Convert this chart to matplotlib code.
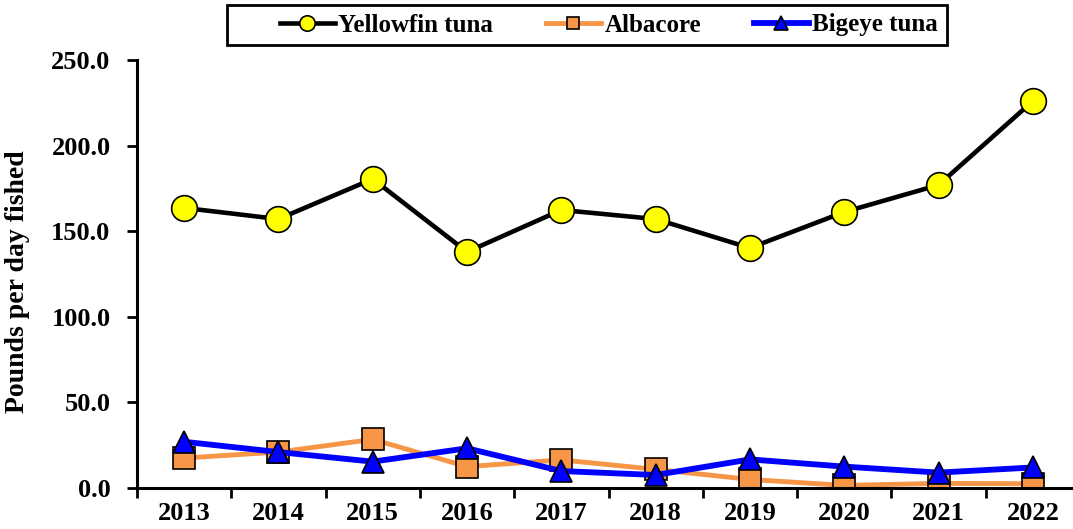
import matplotlib
matplotlib.use("Agg")
import matplotlib.pyplot as plt
from matplotlib.patches import Rectangle
import numpy as np

years = ["2013", "2014", "2015", "2016", "2017", "2018", "2019", "2020", "2021", "2022"]
yellowfin = [163.6, 157.1, 180.5, 137.9, 162.4, 157.1, 140.2, 161.2, 177.0, 226.0]
albacore = [17.5, 21.0, 28.4, 12.5, 16.4, 10.9, 5.0, 1.5, 2.7, 2.5]
bigeye = [27.0, 21.0, 15.4, 23.2, 9.9, 7.6, 16.7, 12.5, 9.0, 12.0]
yticks = [0, 50, 100, 150, 200, 250]

plt.rcParams['font.family'] = ['Liberation Serif', 'DejaVu Serif']
plt.rcParams['font.weight'] = 'bold'

fig = plt.figure(figsize=(10.73, 5.29), dpi=100)
W, H = 1073, 529
ax = fig.add_axes([137 / W, 1 - 488 / H, 943 / W, 428 / H])

x = np.arange(len(years))
l1, = ax.plot(x, yellowfin, color='black', lw=3.3, marker='o', ms=18.5,
              mfc='#FFFF00', mec='black', mew=1.2, label='Yellowfin tuna', zorder=3)
l2, = ax.plot(x, albacore, color='#F79646', lw=3.5, marker='s', ms=15.5,
              mfc='#F79646', mec='black', mew=1.2, label='Albacore', zorder=4)
l3, = ax.plot(x, bigeye, color='#0000FF', lw=4.2, marker='^', ms=16,
              mfc='#0000FF', mec='black', mew=1.2, label='Bigeye tuna', zorder=5)

ax.set_xlim(-0.5, len(years) - 0.5)
ax.set_ylim(0, 250)
ax.set_yticks(yticks)
ax.set_yticklabels([f"{v:.1f}" for v in yticks], fontsize=19, fontweight='bold')
ax.set_xticks(np.arange(-0.5, len(years), 1.0))
ax.set_xticklabels([])
ax.set_xticks(x, minor=True)
ax.set_xticklabels(years, minor=True, fontsize=19, fontweight='bold')
ax.tick_params(axis='x', which='minor', length=0, pad=10)
ax.tick_params(axis='x', which='major', length=7, width=2, direction='out')
ax.tick_params(axis='y', length=7, width=2, direction='out', pad=12)

for s in ['top', 'right']:
    ax.spines[s].set_visible(False)
for s in ['left', 'bottom']:
    ax.spines[s].set_linewidth(2.2)
ax.spines['bottom'].set_zorder(6)
ax.set_ylabel('Pounds per day fished', fontsize=20, fontweight='bold')
ax.yaxis.set_label_coords(-0.113, 0.483)

leg = fig.legend(handles=[l1, l2, l3], loc='center', bbox_to_anchor=(609 / W, 1 - 25 / H),
                 ncol=3, frameon=False,
                 prop={'family': 'Liberation Serif', 'weight': 'bold', 'size': 18},
                 markerscale=0.6, handlelength=2.2, columnspacing=2.1, handletextpad=0.15,
                 borderpad=0, borderaxespad=0)
fig.patches.append(Rectangle((227 / W, 1 - 45 / H), 720 / W, 40 / H,
                             transform=fig.transFigure, fill=False,
                             edgecolor='black', linewidth=2))

fig.savefig('out.png', dpi=100)
